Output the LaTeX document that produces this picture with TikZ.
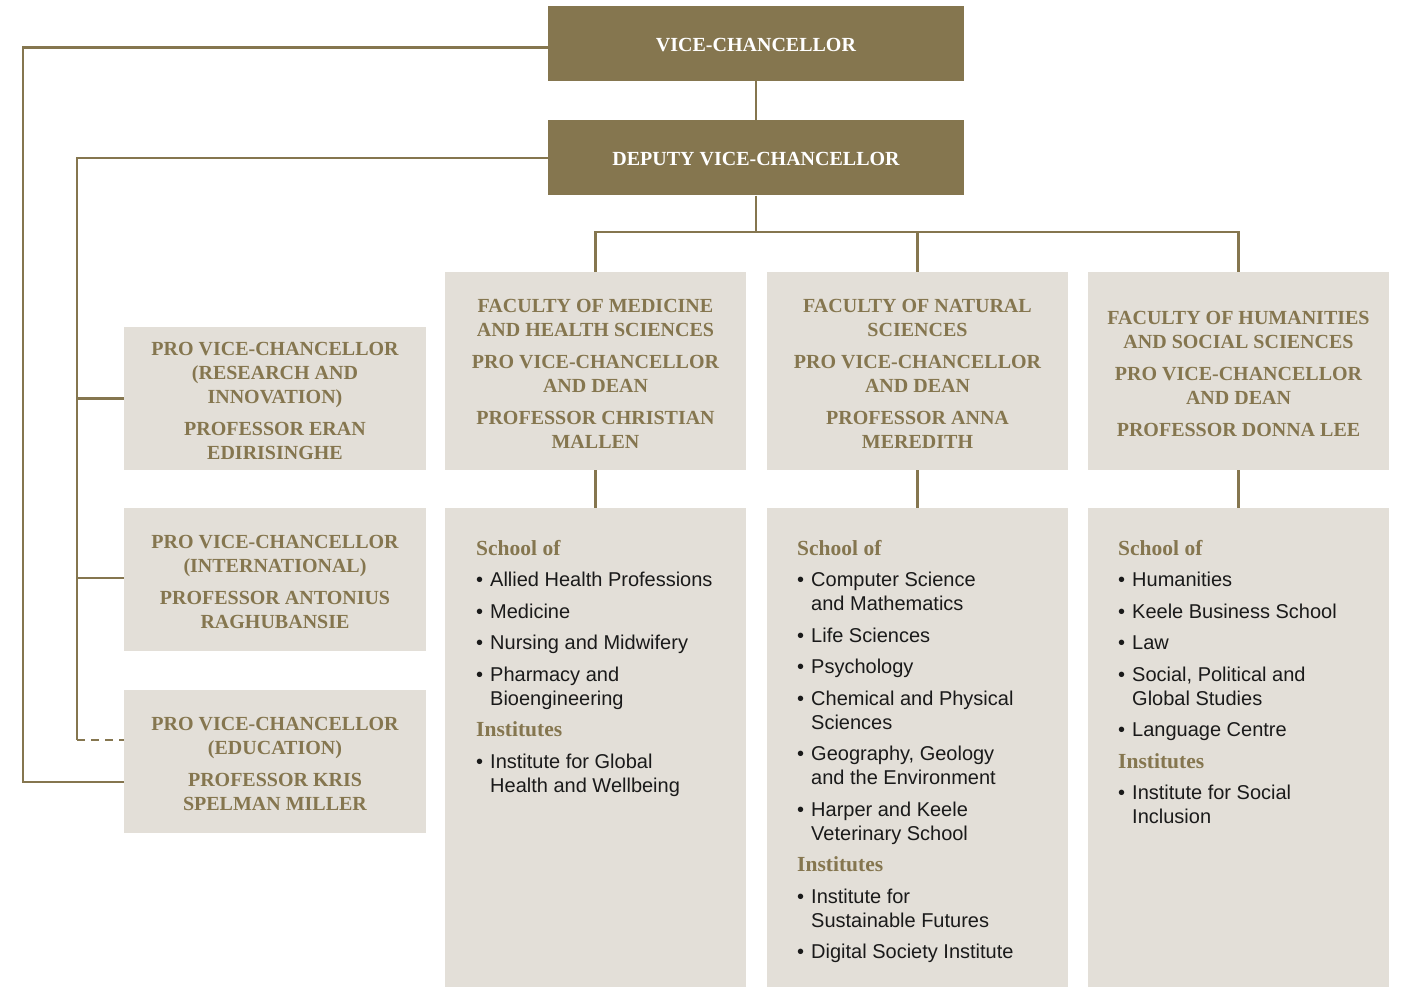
\documentclass[tikz,border=0pt]{standalone}
\usepackage{fontspec}
\setmainfont{Liberation Serif}
\newfontfamily\listfont{Liberation Sans}
\definecolor{gold}{RGB}{133,118,79}
\definecolor{pale}{RGB}{227,223,216}
\definecolor{ink}{RGB}{26,26,26}
\newcommand{\hd}[1]{\multicolumn{2}{@{}l@{}}{\rmfamily\bfseries\fontsize{21.5}{24}\selectfont\color{gold}#1}}
\tikzset{
  link/.style={draw=gold, line width=2.5pt},
  dashlink/.style={link, dash pattern=on 8pt off 6pt},
  headbox/.style={fill=gold, minimum width=416pt, minimum height=75pt, inner sep=0pt},
  headtext/.style={text=white, font=\bfseries\fontsize{20}{24}\selectfont, inner sep=0pt},
  pvcbox/.style={fill=pale, inner sep=0pt, minimum width=302pt, minimum height=143pt},
  facbox/.style={fill=pale, inner sep=0pt, minimum width=301.5pt, minimum height=198pt},
  officetext/.style={text=gold, font=\bfseries\fontsize{20}{24}\selectfont,
    align=center, inner sep=0pt},
  schbox/.style={fill=pale, inner sep=0pt, minimum width=301.5pt, minimum height=479pt},
  listtext/.style={anchor=north west, inner sep=0pt, text=ink,
    font=\listfont\fontsize{20}{24}\selectfont}
}
\begin{document}
\begin{tikzpicture}[x=1pt, y=-1pt]
\useasboundingbox[fill=white] (0,0) rectangle (1401,987);

% executive boxes
\node[headbox] (vc)  at (756,43.5) {};
\node[headtext] (vct) at ([yshift=-2pt]vc.center) {VICE-CHANCELLOR};
\node[headbox] (dvc) at (756,158) {};
\node[headtext] (dvct) at ([yshift=-1pt]dvc.center) {DEPUTY VICE-CHANCELLOR};

% pro vice-chancellors
\node[pvcbox] (pvcR) at (275,398.5) {};
\node[officetext] (pvcRt) at ([yshift=-2pt]pvcR.center) {PRO VICE-CHANCELLOR\\(RESEARCH AND\\INNOVATION)\\[8pt]PROFESSOR ERAN\\EDIRISINGHE};
\node[pvcbox] (pvcI) at (275,579.5) {};
\node[officetext] (pvcIt) at ([yshift=-2pt]pvcI.center) {PRO VICE-CHANCELLOR\\(INTERNATIONAL)\\[8pt]PROFESSOR ANTONIUS\\RAGHUBANSIE};
\node[pvcbox] (pvcE) at (275,761.5) {};
\node[officetext] (pvcEt) at ([yshift=-2pt]pvcE.center) {PRO VICE-CHANCELLOR\\(EDUCATION)\\[8pt]PROFESSOR KRIS\\SPELMAN MILLER};

% faculties
\node[facbox] (facM) at (595.5,371) {};
\node[officetext] (facMt) at ([yshift=-3pt]facM.center) {FACULTY OF MEDICINE\\AND HEALTH SCIENCES\\[8pt]PRO VICE-CHANCELLOR\\AND DEAN\\[8pt]PROFESSOR CHRISTIAN\\MALLEN};
\node[facbox] (facN) at (917.5,371) {};
\node[officetext] (facNt) at ([yshift=-3pt]facN.center) {FACULTY OF NATURAL\\SCIENCES\\[8pt]PRO VICE-CHANCELLOR\\AND DEAN\\[8pt]PROFESSOR ANNA\\MEREDITH};
\node[facbox] (facH) at (1238.5,371) {};
\node[officetext] (facHt) at ([yshift=-3pt]facH.center) {FACULTY OF HUMANITIES\\AND SOCIAL SCIENCES\\[8pt]PRO VICE-CHANCELLOR\\AND DEAN\\[8pt]PROFESSOR DONNA LEE};

% schools and institutes
\node[schbox] (schM) at (595.5,747.5) {};
\node[schbox] (schN) at (917.5,747.5) {};
\node[schbox] (schH) at (1238.5,747.5) {};

\node[listtext] (listM) at (476,538.2) {\begin{tabular}{@{}l@{\hspace{7pt}}l@{}}
\hd{School of}\\[7.5pt]
•&Allied Health Professions\\[7.5pt]
•&Medicine\\[7.5pt]
•&Nursing and Midwifery\\[7.5pt]
•&Pharmacy and\\
&Bioengineering\\[7.5pt]
\hd{Institutes}\\[7.5pt]
•&Institute for Global\\
&Health and Wellbeing
\end{tabular}};

\node[listtext] (listN) at (797,538.2) {\begin{tabular}{@{}l@{\hspace{7pt}}l@{}}
\hd{School of}\\[7.5pt]
•&Computer Science\\
&and Mathematics\\[7.5pt]
•&Life Sciences\\[7.5pt]
•&Psychology\\[7.5pt]
•&Chemical and Physical\\
&Sciences\\[7.5pt]
•&Geography, Geology\\
&and the Environment\\[7.5pt]
•&Harper and Keele\\
&Veterinary School\\[7.5pt]
\hd{Institutes}\\[7.5pt]
•&Institute for\\
&Sustainable Futures\\[7.5pt]
•&Digital Society Institute
\end{tabular}};

\node[listtext] (listH) at (1118,538.2) {\begin{tabular}{@{}l@{\hspace{7pt}}l@{}}
\hd{School of}\\[7.5pt]
•&Humanities\\[7.5pt]
•&Keele Business School\\[7.5pt]
•&Law\\[7.5pt]
•&Social, Political and\\
&Global Studies\\[7.5pt]
•&Language Centre\\[7.5pt]
\hd{Institutes}\\[7.5pt]
•&Institute for Social\\
&Inclusion
\end{tabular}};

% reporting lines
\draw[link] (vc) -- (dvc);
\coordinate (hub) at (756,232);
\draw[link] (dvc) -- (hub);
\draw[link] (facM.north) -- (facM.north |- hub) -- (facH.north |- hub) -- (facH.north);
\draw[link] (facN.north) -- (facN.north |- hub);
\draw[link] (facM) -- (schM);
\draw[link] (facN) -- (schN);
\draw[link] (facH) -- (schH);

\coordinate (vcrail)  at (23,782);
\coordinate (dvcrail) at (77,740);
\draw[link] ([yshift=-4pt]vc.west) -| (vcrail) -- (vcrail -| pvcE.west);
\draw[link] (dvc.west) -| (dvcrail);
\draw[dashlink] (dvcrail) -- (dvcrail -| pvcE.west);
\draw[link] (pvcR.west) -- (pvcR.west -| dvcrail);
\draw[link] ([yshift=1.5pt]pvcI.west) -- ([yshift=1.5pt]pvcI.west -| dvcrail);
\end{tikzpicture}
\end{document}
